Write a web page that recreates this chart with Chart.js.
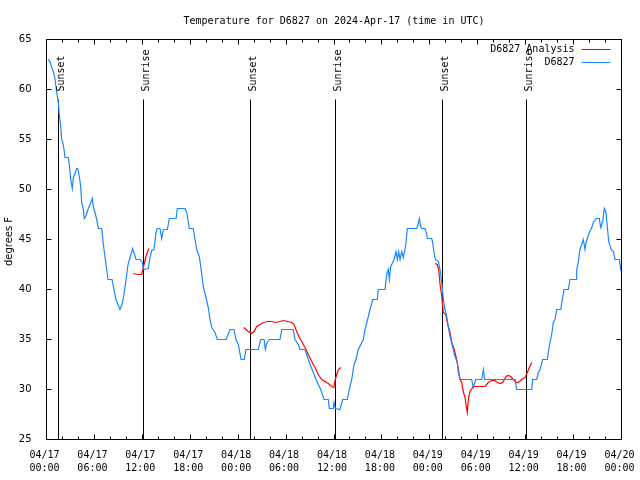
<!DOCTYPE html>
<html><head><meta charset="utf-8">
<script src="https://cdn.jsdelivr.net/npm/chart.js@4"></script>
<style>html,body{margin:0;padding:0;background:#fff}canvas{display:block}</style>
</head><body>
<canvas id="c" width="640" height="480"></canvas>
<script>
const titleText = 'Temperature for D6827 on 2024-Apr-17 (time in UTC)';
const yAxisTitle = 'degrees F';
const seriesNames = ['D6827 Analysis', 'D6827'];
const seriesColors = ['#ff0000', '#1a86ff'];
const xTickLabels = [['04/17','00:00'],['04/17','06:00'],['04/17','12:00'],['04/17','18:00'],
  ['04/18','00:00'],['04/18','06:00'],['04/18','12:00'],['04/18','18:00'],
  ['04/19','00:00'],['04/19','06:00'],['04/19','12:00'],['04/19','18:00'],['04/20','00:00']];
const eventHours = [1.48, 12.12, 25.55, 36.16, 49.57, 60.10];
const eventLabels = ['Sunset','Sunrise','Sunset','Sunrise','Sunset','Sunrise'];
const eventTop = 59;

// hours since 04/17 00:00 UTC, degrees F
const observed = [[0.23,63.0],[0.44,62.8],[0.65,62.2],[0.85,61.8],[1.06,61.1],[1.28,59.7],[1.48,58.7],[1.60,57.5],[1.78,56.3],[1.90,55.0],[2.03,54.7],[2.19,54.0],[2.32,53.2],[2.73,53.2],[2.86,52.5],[3.03,51.0],[3.23,50.1],[3.36,51.2],[3.53,51.5],[3.78,52.1],[3.91,52.1],[4.11,51.3],[4.28,50.3],[4.41,48.7],[4.61,48.0],[4.73,47.1],[4.91,47.3],[5.23,48.1],[5.45,48.5],[5.74,49.1],[5.86,48.3],[6.07,47.7],[6.29,47.0],[6.49,46.1],[6.91,46.1],[7.04,45.1],[7.20,44.0],[7.45,42.5],[7.70,41.0],[8.20,41.0],[8.45,40.0],[8.70,39.0],[8.95,38.5],[9.20,38.0],[9.45,38.5],[9.70,39.5],[9.96,41.0],[10.21,42.5],[10.46,43.2],[10.79,44.1],[11.21,43.0],[11.71,43.0],[12.00,42.7],[12.12,42.0],[12.75,42.1],[12.96,43.2],[13.17,43.9],[13.46,44.0],[13.71,45.7],[13.87,46.1],[14.21,46.1],[14.43,45.1],[14.63,46.0],[15.13,46.0],[15.38,47.1],[16.22,47.1],[16.38,48.1],[17.34,48.1],[17.56,47.7],[17.88,46.1],[18.38,46.1],[18.60,45.0],[18.81,44.0],[19.13,43.3],[19.35,42.1],[19.63,40.3],[19.97,39.2],[20.26,38.2],[20.47,37.0],[20.69,36.2],[21.10,35.7],[21.39,35.0],[22.48,35.0],[22.73,35.5],[22.98,36.0],[23.48,36.0],[23.73,35.0],[24.02,34.5],[24.36,33.0],[24.77,33.0],[24.98,34.0],[26.52,34.0],[26.82,35.0],[27.24,35.0],[27.40,34.0],[27.57,34.6],[27.90,35.0],[29.24,35.0],[29.45,36.0],[30.90,36.0],[31.12,35.0],[31.53,34.5],[31.74,34.0],[32.37,34.0],[32.58,33.5],[32.78,33.0],[33.00,32.5],[33.41,31.7],[33.75,31.0],[34.03,30.5],[34.34,30.0],[34.75,29.0],[35.29,29.0],[35.41,28.1],[35.91,28.1],[36.00,28.7],[36.16,28.1],[36.75,28.0],[37.09,29.0],[37.67,29.0],[37.92,30.0],[38.22,31.0],[38.51,32.5],[38.76,33.0],[39.04,34.0],[39.67,35.0],[39.88,36.0],[40.10,36.7],[40.30,37.3],[40.51,38.0],[40.85,39.0],[41.42,39.0],[41.55,40.0],[42.39,40.0],[42.60,41.5],[42.80,42.0],[42.93,41.0],[43.10,42.3],[43.35,42.7],[43.51,43.0],[43.77,43.8],[43.93,43.0],[44.10,43.8],[44.27,43.0],[44.48,43.8],[44.68,43.2],[44.89,44.0],[45.02,44.7],[45.18,46.1],[46.36,46.1],[46.56,46.6],[46.68,47.1],[46.86,46.3],[46.98,46.1],[47.40,46.1],[47.61,45.5],[47.69,45.1],[48.24,45.1],[48.36,44.7],[48.52,43.7],[48.69,43.0],[49.06,42.8],[49.28,42.0],[49.49,40.7],[49.69,39.0],[49.90,38.0],[50.11,37.3],[50.31,36.3],[50.53,35.3],[50.74,34.7],[50.94,34.0],[51.15,33.3],[51.44,32.7],[51.57,31.7],[51.78,31.0],[53.24,31.0],[53.44,30.2],[53.74,31.0],[54.50,31.0],[54.70,32.0],[54.87,31.0],[58.67,31.0],[58.88,30.0],[60.76,30.0],[60.88,31.0],[61.38,31.0],[61.58,31.7],[61.80,32.0],[62.13,33.0],[62.71,33.0],[62.89,34.0],[63.05,34.7],[63.26,35.5],[63.46,36.7],[63.67,37.0],[63.89,38.0],[64.39,38.0],[64.55,38.8],[64.80,40.0],[65.34,40.0],[65.55,41.0],[66.31,41.0],[66.39,42.0],[66.59,42.7],[66.80,44.0],[67.02,44.5],[67.22,45.0],[67.43,44.0],[67.56,44.7],[67.72,45.1],[67.97,45.7],[68.27,46.2],[68.47,46.7],[68.81,47.1],[69.22,47.1],[69.40,46.2],[69.65,46.8],[69.85,48.1],[70.06,47.7],[70.23,46.2],[70.40,44.8],[70.69,44.0],[70.98,43.8],[71.19,43.0],[71.73,43.0],[71.90,42.0],[72.00,41.8]];

const analysis = [[10.87,41.6],[11.37,41.5],[11.92,41.5],[12.05,42.0],[12.21,42.5],[12.46,43.3],[12.67,43.8],[12.84,44.1],
  [18.0,null],
  [24.73,36.2],[25.27,35.8],[25.70,35.6],[25.98,35.8],[26.32,36.3],[26.73,36.5],[27.15,36.7],[27.65,36.8],[28.20,36.8],[28.61,36.7],[29.24,36.8],[29.65,36.9],[30.15,36.8],[30.70,36.7],[30.99,36.5],[31.33,35.8],[31.66,35.2],[31.96,34.8],[32.37,34.2],[32.78,33.5],[33.21,32.8],[33.62,32.2],[34.03,31.5],[34.46,31.0],[34.87,30.8],[35.29,30.6],[35.71,30.3],[36.00,30.2],[36.16,31.0],[36.34,31.5],[36.54,32.0],[36.88,32.2],
  [42.0,null],
  [48.65,42.6],[48.94,42.5],[49.11,42.0],[49.28,40.5],[49.49,39.3],[49.69,37.7],[49.99,37.5],[50.11,37.0],[50.31,36.3],[50.53,35.7],[50.74,34.7],[50.94,34.3],[51.15,33.7],[51.37,33.0],[51.57,32.0],[51.78,31.0],[51.99,30.7],[52.19,29.8],[52.40,29.2],[52.62,28.0],[52.69,27.7],[52.82,29.0],[53.03,29.8],[53.44,30.3],[53.87,30.3],[54.91,30.3],[55.32,30.7],[55.75,30.9],[56.16,30.9],[56.45,30.7],[56.88,30.6],[57.20,30.8],[57.54,31.3],[57.83,31.4],[58.13,31.3],[58.45,31.0],[58.79,30.7],[59.08,30.7],[59.51,31.0],[59.92,31.2],[60.21,31.7],[60.46,32.2],[60.76,32.7]];

const MONO = '"DejaVu Sans Mono", "Liberation Mono", monospace';
const SANS = '"DejaVu Sans", sans-serif';

const framePlugin = {
  id: 'frame',
  beforeDraw(chart) {
    const ctx = chart.ctx;
    ctx.save(); ctx.fillStyle = '#fff'; ctx.fillRect(0, 0, chart.width, chart.height); ctx.restore();
  },
  beforeDatasetsDraw(chart) {
    const ctx = chart.ctx, xs = chart.scales.x, ys = chart.scales.y;
    ctx.save();
    ctx.strokeStyle = '#000'; ctx.lineWidth = 1;
    eventHours.forEach(h => {
      const px = Math.floor(xs.getPixelForValue(h)) + 0.5;
      ctx.beginPath();
      ctx.moveTo(px, ys.getPixelForValue(ys.min));
      ctx.lineTo(px, ys.getPixelForValue(eventTop));
      ctx.stroke();
    });
    ctx.restore();
  },
  afterDraw(chart) {
    const ctx = chart.ctx, a = chart.chartArea, xs = chart.scales.x, ys = chart.scales.y;
    ctx.save();
    ctx.strokeStyle = '#000'; ctx.lineWidth = 1;
    const L = Math.floor(a.left) + 0.5, R = Math.floor(a.right) + 0.5;
    const T = Math.floor(a.top) + 0.5, B = Math.floor(a.bottom) + 0.5;
    ctx.strokeRect(L, T, R - L, B - T);
    ctx.beginPath();
    for (let h = xs.min; h <= xs.max; h += 2) {
      const px = Math.floor(xs.getPixelForValue(h)) + 0.5;
      const len = (h % 6 === 0) ? 5 : 3;
      ctx.moveTo(px, B); ctx.lineTo(px, B - len);
      ctx.moveTo(px, T); ctx.lineTo(px, T + len);
    }
    for (let v = ys.min; v <= ys.max; v += 5) {
      const py = Math.floor(ys.getPixelForValue(v)) + 0.5;
      ctx.moveTo(L, py); ctx.lineTo(L + 5, py);
      ctx.moveTo(R, py); ctx.lineTo(R - 5, py);
    }
    ctx.stroke();

    // event labels
    ctx.fillStyle = '#000';
    ctx.font = '10px ' + MONO;
    eventHours.forEach((h, i) => {
      const px = Math.floor(xs.getPixelForValue(h)) + 0.5;
      const py = ys.getPixelForValue(eventTop) - 8;
      ctx.save();
      ctx.translate(px + 5, py);
      ctx.rotate(-Math.PI / 2);
      ctx.textAlign = 'left'; ctx.textBaseline = 'alphabetic';
      ctx.fillText(eventLabels[i], 0, 0);
      ctx.restore();
    });

    // legend
    ctx.font = '10px ' + MONO;
    ctx.textAlign = 'right'; ctx.textBaseline = 'middle';
    const legendY = [a.top + 10, a.top + 23];
    seriesNames.forEach((name, i) => {
      ctx.fillStyle = '#000';
      ctx.fillText(name, a.right - 47, legendY[i]);
      ctx.strokeStyle = seriesColors[i];
      ctx.beginPath();
      ctx.moveTo(a.right - 40, Math.floor(legendY[i]) + 0.5);
      ctx.lineTo(a.right - 11, Math.floor(legendY[i]) + 0.5);
      ctx.stroke();
    });

    // title
    ctx.fillStyle = '#000';
    ctx.font = '10px ' + MONO;
    ctx.textAlign = 'center'; ctx.textBaseline = 'alphabetic';
    ctx.fillText(titleText, (a.left + a.right) / 2, 24);

    // y axis title
    ctx.font = '10px ' + SANS;
    ctx.save();
    ctx.translate(9, (a.top + a.bottom) / 2 + 2);
    ctx.rotate(-Math.PI / 2);
    ctx.textAlign = 'center'; ctx.textBaseline = 'middle';
    ctx.fillText(yAxisTitle, 0, 0);
    ctx.restore();
    ctx.restore();
  }
};

new Chart(document.getElementById('c'), {
  type: 'line',
  data: {
    datasets: [
      { label: seriesNames[1], data: observed.map(p => ({x: p[0], y: p[1]})),
        borderColor: seriesColors[1], borderWidth: 1.2, pointRadius: 0, tension: 0, fill: false },
      { label: seriesNames[0], data: analysis.map(p => ({x: p[0], y: p[1]})),
        borderColor: seriesColors[0], borderWidth: 1.2, pointRadius: 0, tension: 0, fill: false, spanGaps: false }
    ]
  },
  options: {
    responsive: false,
    animation: false,
    devicePixelRatio: 1,
    layout: { padding: { top: 39.5, right: 18.5, left: 0, bottom: 0 } },
    plugins: { legend: { display: false }, title: { display: false }, tooltip: { enabled: false } },
    scales: {
      x: {
        type: 'linear', min: 0, max: 72, position: 'bottom',
        grid: { display: false }, border: { display: false },
        ticks: { stepSize: 6, autoSkip: false, maxRotation: 0, minRotation: 0, color: '#000',
          font: { family: MONO, size: 10, lineHeight: 1.33 }, padding: 1, labelOffset: -2,
          callback: v => xTickLabels[Math.round(v / 6)] },
        afterFit: s => { s.height = 40.5; s.paddingLeft = 0; s.paddingRight = 0; }
      },
      y: {
        type: 'linear', min: 25, max: 65,
        grid: { display: false }, border: { display: false },
        ticks: { stepSize: 5, color: '#000', font: { family: SANS, size: 10 }, padding: 7 },
        afterFit: s => { s.width = 46.5; s.paddingTop = 0; s.paddingBottom = 0; }
      }
    }
  },
  plugins: [framePlugin]
});
</script>
</body></html>
